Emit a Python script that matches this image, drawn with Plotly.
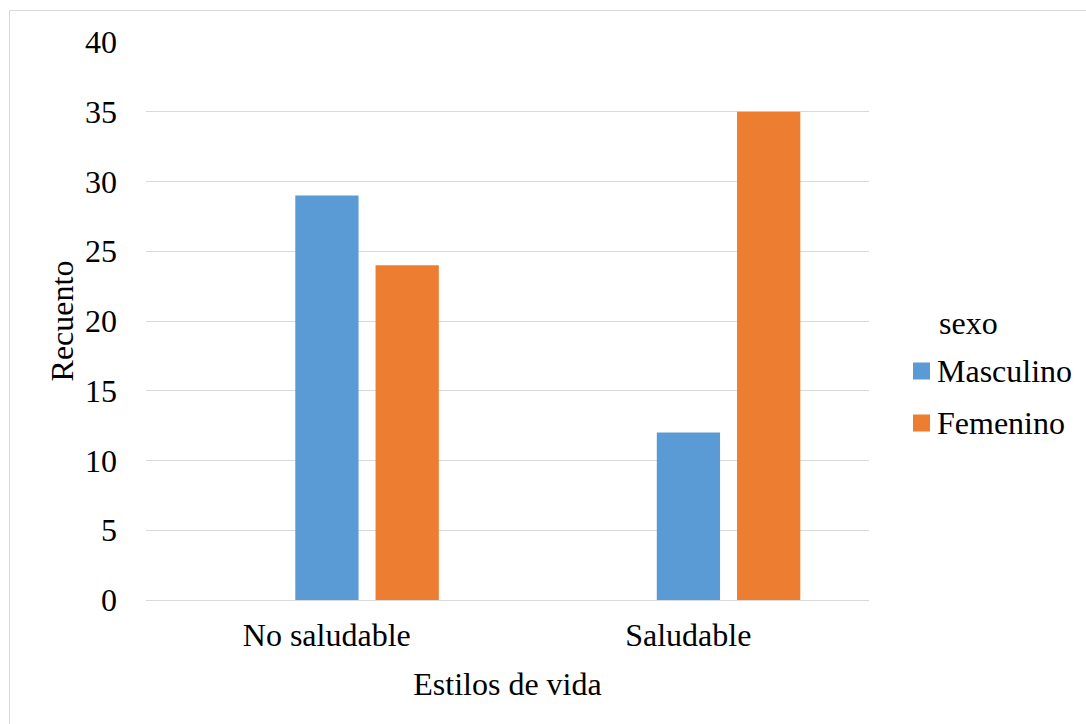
import plotly.graph_objects as go

categories = ["No saludable", "Saludable"]
series_names = ["Masculino", "Femenino"]
masculino = [29, 12]
femenino = [24, 35]
colors = ["#5B9BD5", "#ED7D31"]
y_ticks = [0, 5, 10, 15, 20, 25, 30, 35, 40]

W, H = 1086, 724
L, R, T, B = 146, 217, 42, 124
PW, PH = W - L - R, H - T - B

FONT = "Times New Roman, Liberation Serif, serif"
FS = 32

fig = go.Figure()
bar_width = 0.175
offsets = [-0.087, 0.135]
for name, vals, col, off in zip(series_names, [masculino, femenino], colors, offsets):
    fig.add_trace(go.Bar(
        x=categories, y=vals, name=name, marker=dict(color=col, line=dict(width=0)),
        width=bar_width, offset=off, showlegend=False,
    ))

def px(x):
    return (x - L) / PW

def py(y):
    return 1 - (y - T) / PH

shapes = [
    # chart outline
    dict(type="rect", xref="paper", yref="paper",
         x0=px(9.5), x1=px(1100), y0=py(10.5), y1=py(740),
         line=dict(color="#D9D9D9", width=1), fillcolor="rgba(0,0,0,0)", layer="below"),
]
annotations = [
    dict(text="sexo", xref="paper", yref="paper", x=px(937), y=py(323),
         xanchor="left", yanchor="middle", showarrow=False,
         font=dict(family=FONT, size=FS, color="#000000")),
]
legend_y = [371, 423]
for name, col, ly in zip(series_names, colors, legend_y):
    shapes.append(dict(type="rect", xref="paper", yref="paper",
                       x0=px(913), x1=px(930), y0=py(ly - 8.5), y1=py(ly + 8.5),
                       fillcolor=col, line=dict(width=0)))
    annotations.append(dict(text=name, xref="paper", yref="paper", x=px(935), y=py(ly),
                            xanchor="left", yanchor="middle", showarrow=False,
                            font=dict(family=FONT, size=FS, color="#000000")))

fig.update_layout(
    width=W, height=H,
    margin=dict(l=L, r=R, t=T, b=B, pad=0),
    paper_bgcolor="white", plot_bgcolor="white",
    font=dict(family=FONT, size=FS, color="#000000"),
    shapes=shapes, annotations=annotations,
    xaxis=dict(
        title=dict(text="Estilos de vida", font=dict(family=FONT, size=FS), standoff=20),
        showgrid=False, showline=False, zeroline=False, ticks="",
        tickfont=dict(family=FONT, size=FS), ticklabelstandoff=13,
    ),
    yaxis=dict(
        title=dict(text="Recuento", font=dict(family=FONT, size=FS), standoff=1),
        range=[0, 40], tickvals=y_ticks, ticktext=[str(v) for v in y_ticks],
        showgrid=True, gridcolor="#D9D9D9", gridwidth=1,
        zeroline=True, zerolinecolor="#D9D9D9", zerolinewidth=1,
        showline=False, ticks="", tickfont=dict(family=FONT, size=FS),
        ticklabelstandoff=28,
    ),
)

fig.write_html("out.html")
